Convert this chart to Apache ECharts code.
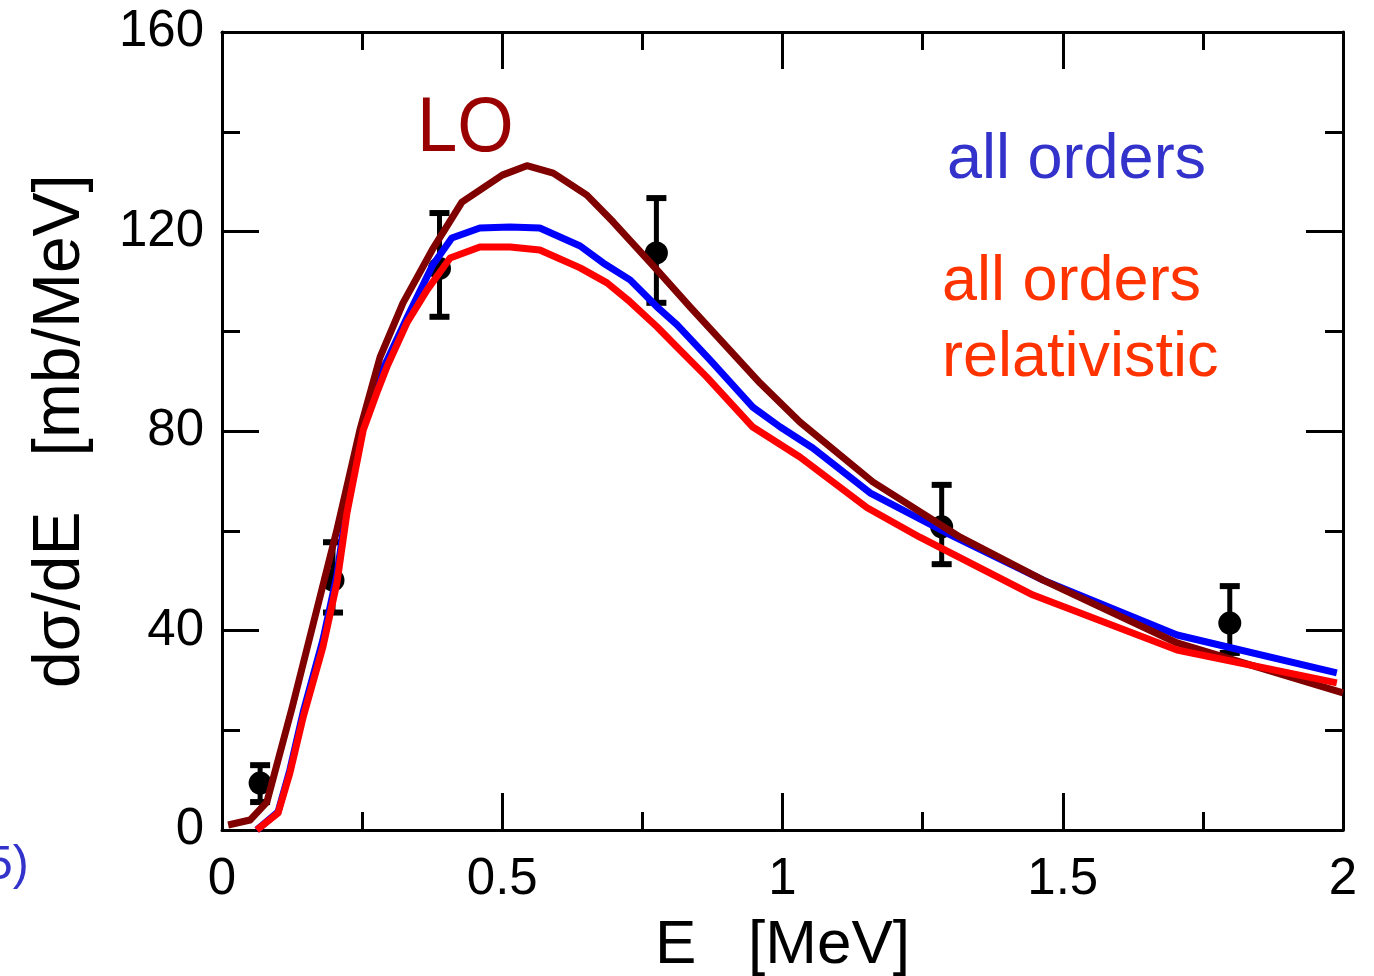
<!DOCTYPE html>
<html>
<head>
<meta charset="utf-8">
<title>dσ/dE spectrum</title>
<script src="https://cdn.jsdelivr.net/npm/echarts@6/dist/echarts.min.js"></script>
<style>
  html, body { margin: 0; padding: 0; background: #ffffff; }
  #chart { width: 1374px; height: 976px; }
</style>
</head>
<body>
<div id="chart"></div>
<script>
// Leading-order calculation [E (MeV), dσ/dE (mb/MeV)]
const loCurve = [
  [0.011, 1.0], [0.050, 2.0], [0.080, 5.6], [0.125, 24.5], [0.205, 60.2],
  [0.246, 80.2], [0.282, 94.8], [0.323, 105.7], [0.375, 116.3], [0.428, 125.9],
  [0.500, 131.3], [0.544, 133.2], [0.591, 131.7], [0.651, 127.3], [0.698, 121.9],
  [0.776, 112.3], [0.835, 104.9], [0.901, 96.8], [0.960, 89.6], [1.031, 81.8],
  [1.161, 69.8], [1.317, 58.7], [1.465, 50.1], [1.704, 37.5], [2.000, 27.5]
];

// All-orders calculation
const allOrdersCurve = [
  [0.062, 0.0], [0.100, 3.6], [0.121, 12.0], [0.145, 23.7], [0.180, 38.1],
  [0.205, 51.1], [0.223, 65.2], [0.252, 82.2], [0.282, 91.2], [0.330, 102.7],
  [0.376, 113.3], [0.410, 118.7], [0.460, 120.7], [0.514, 120.9], [0.567, 120.7],
  [0.639, 117.1], [0.680, 113.7], [0.728, 110.3], [0.776, 104.9], [0.812, 101.3],
  [0.871, 94.2], [0.947, 84.8], [0.996, 80.8], [1.054, 76.6], [1.156, 67.6],
  [1.294, 59.5], [1.465, 50.1], [1.704, 39.1], [1.989, 31.5]
];

// All-orders relativistic calculation
const relativisticCurve = [
  [0.062, 0.0], [0.100, 3.4], [0.121, 11.4], [0.145, 22.7], [0.180, 36.7],
  [0.205, 49.5], [0.223, 63.6], [0.252, 80.2], [0.278, 88.2], [0.294, 92.8],
  [0.330, 101.7], [0.366, 108.3], [0.407, 114.7], [0.460, 116.9], [0.514, 116.9],
  [0.567, 116.3], [0.639, 112.7], [0.687, 109.7], [0.728, 105.9], [0.776, 100.9],
  [0.805, 97.6], [0.865, 90.8], [0.947, 80.8], [1.031, 74.8], [1.151, 64.6],
  [1.245, 58.7], [1.447, 47.1], [1.704, 36.1], [1.989, 29.5]
];

// Measured points: [E, value, lower, upper]
const measured = [
  [0.068, 9.4, 5.6, 13.0],
  [0.198, 50.1, 43.6, 57.7],
  [0.388, 112.6, 102.9, 123.7],
  [0.775, 115.7, 105.7, 126.7],
  [1.284, 60.8, 53.3, 69.2],
  [1.798, 41.5, 35.5, 48.9]
];

const xTicks = { min: 0, max: 2, interval: 0.5 };
const yTicks = { min: 0, max: 160, interval: 40 };

const FONT = '"Liberation Sans", Arial, Helvetica, sans-serif';
const INK = '#000000';

const frameAxis = {
  axisLine: { show: true, onZero: false, lineStyle: { color: INK, width: 3 } },
  axisTick: { show: true, inside: true, length: 37, lineStyle: { color: INK, width: 3 } },
  minorTick: { show: true, splitNumber: 2, length: 18, lineStyle: { color: INK, width: 3 } },
  splitLine: { show: false },
  minorSplitLine: { show: false }
};

const chart = echarts.init(document.getElementById('chart'), null, { renderer: 'canvas' });

chart.setOption({
  backgroundColor: '#ffffff',
  animation: false,
  grid: {
    left: 222, right: 31, top: 32, bottom: 146,
    containLabel: false, outerBoundsMode: 'none'
  },
  xAxis: [
    Object.assign({
      type: 'value', position: 'bottom',
      min: xTicks.min, max: xTicks.max, interval: xTicks.interval,
      name: 'E   [MeV]', nameLocation: 'middle', nameGap: 116,
      nameTextStyle: { fontFamily: FONT, fontSize: 62, color: INK, verticalAlign: 'middle' },
      axisLabel: {
        show: true, margin: 24, fontFamily: FONT, fontSize: 51, color: INK,
        formatter: v => String(v)
      }
    }, frameAxis),
    Object.assign({
      type: 'value', position: 'top',
      min: xTicks.min, max: xTicks.max, interval: xTicks.interval,
      axisLabel: { show: false }
    }, frameAxis)
  ],
  yAxis: [
    Object.assign({
      type: 'value', position: 'left',
      min: yTicks.min, max: yTicks.max, interval: yTicks.interval,
      name: 'dσ/dE   [mb/MeV]', nameLocation: 'middle', nameGap: 161, nameRotate: 90,
      nameTextStyle: { fontFamily: FONT, fontSize: 66, color: INK, verticalAlign: 'middle' },
      axisLabel: { show: true, margin: 18, fontFamily: FONT, fontSize: 51, color: INK,
        padding: [4, 0, 0, 0] }
    }, frameAxis),
    Object.assign({
      type: 'value', position: 'right',
      min: yTicks.min, max: yTicks.max, interval: yTicks.interval,
      axisLabel: { show: false }
    }, frameAxis)
  ],
  series: [
    {
      name: 'data', type: 'custom', xAxisIndex: 0, yAxisIndex: 0, z: 1,
      data: measured,
      renderItem: function (params, api) {
        const c = api.coord([api.value(0), api.value(1)]);
        const lo = api.coord([api.value(0), api.value(2)]);
        const hi = api.coord([api.value(0), api.value(3)]);
        const cap = 10;
        const bar = { stroke: INK, lineWidth: 5 };
        const capStyle = { stroke: INK, lineWidth: 6 };
        return {
          type: 'group',
          children: [
            { type: 'line', shape: { x1: c[0], y1: lo[1], x2: c[0], y2: hi[1] }, style: bar },
            { type: 'line', shape: { x1: c[0] - cap, y1: lo[1], x2: c[0] + cap, y2: lo[1] }, style: capStyle },
            { type: 'line', shape: { x1: c[0] - cap, y1: hi[1], x2: c[0] + cap, y2: hi[1] }, style: capStyle },
            { type: 'circle', shape: { cx: c[0], cy: c[1], r: 11.5 }, style: { fill: INK } }
          ]
        };
      }
    },
    {
      name: 'all orders', type: 'line', data: allOrdersCurve, z: 2,
      showSymbol: false, symbol: 'none', smooth: false,
      lineStyle: { color: '#0000ff', width: 7, join: 'round' }
    },
    {
      name: 'LO', type: 'line', data: loCurve, z: 3,
      showSymbol: false, symbol: 'none', smooth: false,
      lineStyle: { color: '#800000', width: 7, join: 'round' }
    },
    {
      name: 'all orders relativistic', type: 'line', data: relativisticCurve, z: 4,
      showSymbol: false, symbol: 'none', smooth: false,
      lineStyle: { color: '#ff0000', width: 7, join: 'round' }
    }
  ],
  graphic: [
    {
      type: 'text', left: 417, top: 90, z: 10,
      style: { text: 'LO', fill: '#990000', font: '78px ' + FONT },
      scaleX: 0.93
    },
    {
      type: 'text', x: 947, y: 161, z: 10,
      style: { text: 'all orders', fill: '#3333cc', font: '63px ' + FONT, verticalAlign: 'middle' }
    },
    {
      type: 'text', x: 942, y: 283, z: 10,
      style: { text: 'all orders', fill: '#ff3300', font: '63px ' + FONT, verticalAlign: 'middle' }
    },
    {
      type: 'text', x: 942, y: 359, z: 10,
      style: { text: 'relativistic', fill: '#ff3300', font: '63px ' + FONT, verticalAlign: 'middle' }
    },
    {
      type: 'text', x: -14, y: 866, z: 10,
      style: { text: '5)', fill: '#3333cc', font: '48px ' + FONT, verticalAlign: 'middle' }
    }
  ]
});
</script>
</body>
</html>
